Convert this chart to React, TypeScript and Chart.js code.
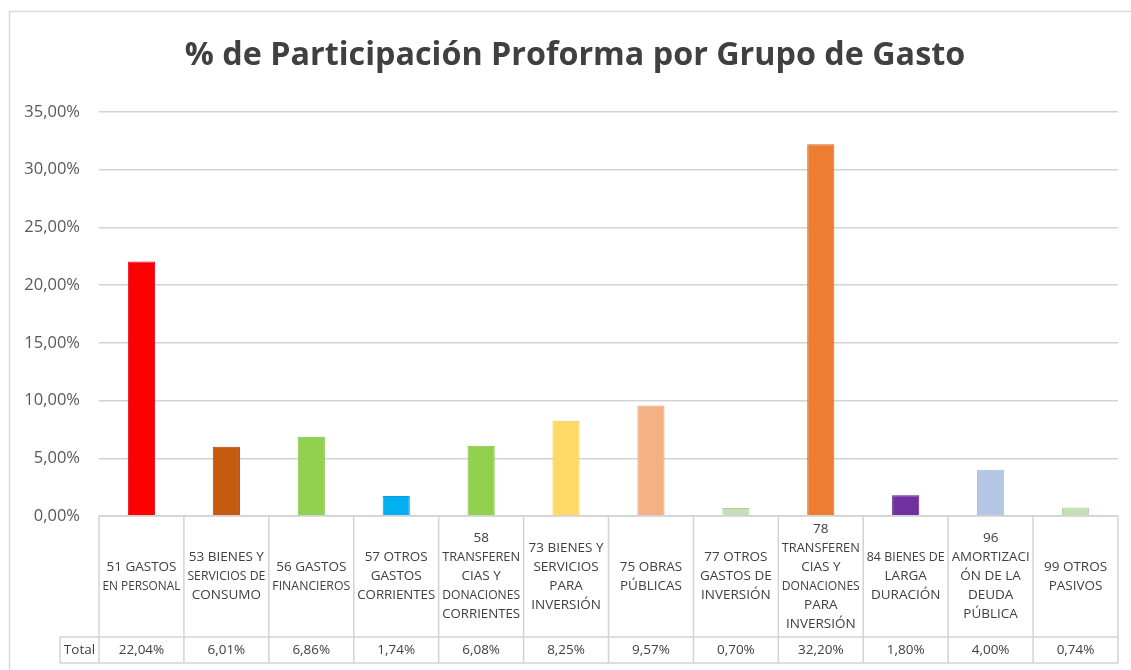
import React, { useEffect, useRef } from "react";
import { Chart, registerables } from "chart.js";

Chart.register(...registerables);

const titleText = "% de Participación Proforma por Grupo de Gasto";

const categories: string[][] = [
  ["51 GASTOS", "EN PERSONAL"],
  ["53 BIENES Y", "SERVICIOS DE", "CONSUMO"],
  ["56 GASTOS", "FINANCIEROS"],
  ["57 OTROS", "GASTOS", "CORRIENTES"],
  ["58", "TRANSFEREN", "CIAS Y", "DONACIONES", "CORRIENTES"],
  ["73 BIENES Y", "SERVICIOS", "PARA", "INVERSIÓN"],
  ["75 OBRAS", "PÚBLICAS"],
  ["77 OTROS", "GASTOS DE", "INVERSIÓN"],
  ["78", "TRANSFEREN", "CIAS Y", "DONACIONES", "PARA", "INVERSIÓN"],
  ["84 BIENES DE", "LARGA", "DURACIÓN"],
  ["96", "AMORTIZACI", "ÓN DE LA", "DEUDA", "PÚBLICA"],
  ["99 OTROS", "PASIVOS"],
];

const totals: number[] = [22.04, 6.01, 6.86, 1.74, 6.08, 8.25, 9.57, 0.7, 32.2, 1.8, 4.0, 0.74];

const seriesName = "Total";

const barColors: string[] = [
  "#FF0000", "#C55A11", "#92D050", "#00B0F0", "#92D050", "#FFD966",
  "#F4B183", "#C5E0B4", "#ED7D31", "#7030A0", "#B4C7E7", "#C5E0B4",
];
const barBorders: string[] = [
  "#E8102A", "#A84B0E", "#7FBF3F", "#0A9AD6", "#7FBF3F", "#F0C850",
  "#E8A070", "#B0D29A", "#DA6A22", "#561E80", "#A8BCDF", "#B0D29A",
];

const yTicks: number[] = [0, 5, 10, 15, 20, 25, 30, 35];

const fmt = (v: number) => v.toFixed(2).replace(".", ",") + "%";

const TEXT = "#404040";
const LINE = "#D3D3D3";

const framePlugin = {
  id: "frame",
  beforeDraw(chart: any) {
    const ctx = chart.ctx;
    ctx.save();
    ctx.fillStyle = "#FFFFFF";
    ctx.fillRect(0, 0, chart.width, chart.height);
    ctx.strokeStyle = "#D9D9D9";
    ctx.lineWidth = 1.5;
    ctx.strokeRect(9.5, 11.5, chart.width + 10, chart.height + 10);
    ctx.fillStyle = TEXT;
    ctx.textAlign = "center";
    ctx.textBaseline = "middle";
    ctx.font = "bold 32.3px 'Open Sans'";
    ctx.fillText(titleText, 575, 56);
    ctx.restore();
  },
};

const tablePlugin = {
  id: "dataTable",
  afterDraw(chart: any) {
    const ctx = chart.ctx;
    const { left, right, bottom } = chart.chartArea;
    const xs = chart.scales.x;
    const n = categories.length;
    const cw = (right - left) / n;
    const rowTop = bottom;
    const catBottom = rowTop + 121;
    const totBottom = catBottom + 26;
    const totLeft = left - 39;

    ctx.save();
    ctx.strokeStyle = LINE;
    ctx.lineWidth = 1.5;
    ctx.beginPath();
    ctx.moveTo(left, rowTop);
    ctx.lineTo(right, rowTop);
    ctx.moveTo(totLeft, catBottom);
    ctx.lineTo(right, catBottom);
    ctx.moveTo(totLeft, totBottom);
    ctx.lineTo(right, totBottom);
    for (let i = 0; i <= n; i++) {
      const x = left + i * cw;
      ctx.moveTo(x, rowTop);
      ctx.lineTo(x, totBottom);
    }
    ctx.moveTo(totLeft, catBottom);
    ctx.lineTo(totLeft, totBottom);
    ctx.stroke();

    ctx.fillStyle = TEXT;
    ctx.textAlign = "center";
    ctx.textBaseline = "middle";
    ctx.font = "13.5px 'Open Sans'";
    const lh = 19;
    const midCat = (rowTop + catBottom) / 2;
    const midTot = (catBottom + totBottom) / 2;
    for (let i = 0; i < n; i++) {
      const cx = xs.getPixelForValue(i);
      const lines = categories[i];
      const start = midCat - ((lines.length - 1) * lh) / 2;
      lines.forEach((t, k) => ctx.fillText(t, cx, start + k * lh, cw - 7));
      ctx.fillText(fmt(totals[i]), cx, midTot, cw - 7);
    }
    ctx.fillText(seriesName, (totLeft + left) / 2, midTot);
    ctx.restore();
  },
};

export default function App() {
  const ref = useRef<HTMLCanvasElement | null>(null);
  useEffect(() => {
    if (!ref.current) return;
    const chart = new Chart(ref.current, {
      type: "bar",
      data: {
        labels: categories,
        datasets: [
          {
            label: seriesName,
            data: totals,
            backgroundColor: barColors,
            borderColor: barBorders,
            borderWidth: 1,
            categoryPercentage: 1,
            barPercentage: 0.32,
          },
        ],
      },
      options: {
        responsive: false,
        animation: false,
        layout: { padding: { left: 0, right: 13, top: 112, bottom: 154 } },
        plugins: {
          legend: { display: false },
          tooltip: { enabled: false },
          title: { display: false, text: titleText },
        },
        scales: {
          x: { display: false },
          y: {
            min: yTicks[0],
            max: yTicks[yTicks.length - 1],
            afterFit: (s: any) => {
              s.width = 99;
            },
            afterBuildTicks: (s: any) => {
              s.ticks = yTicks.map((v) => ({ value: v }));
            },
            ticks: {
              color: "#595959",
              font: { family: "'Open Sans'", size: 16.5 },
              padding: 19,
              callback: (v: any) => fmt(Number(v)),
            },
            grid: { color: LINE, lineWidth: 1.5, drawTicks: false },
            border: { display: false },
          },
        },
      },
      plugins: [framePlugin, tablePlugin],
    });
    return () => chart.destroy();
  }, []);
  return (
    <div style={{ position: "fixed", left: 0, top: 0, width: 1131, height: 670, background: "#fff" }}>
      <canvas ref={ref} width={1131} height={670} style={{ display: "block" }} />
    </div>
  );
}
